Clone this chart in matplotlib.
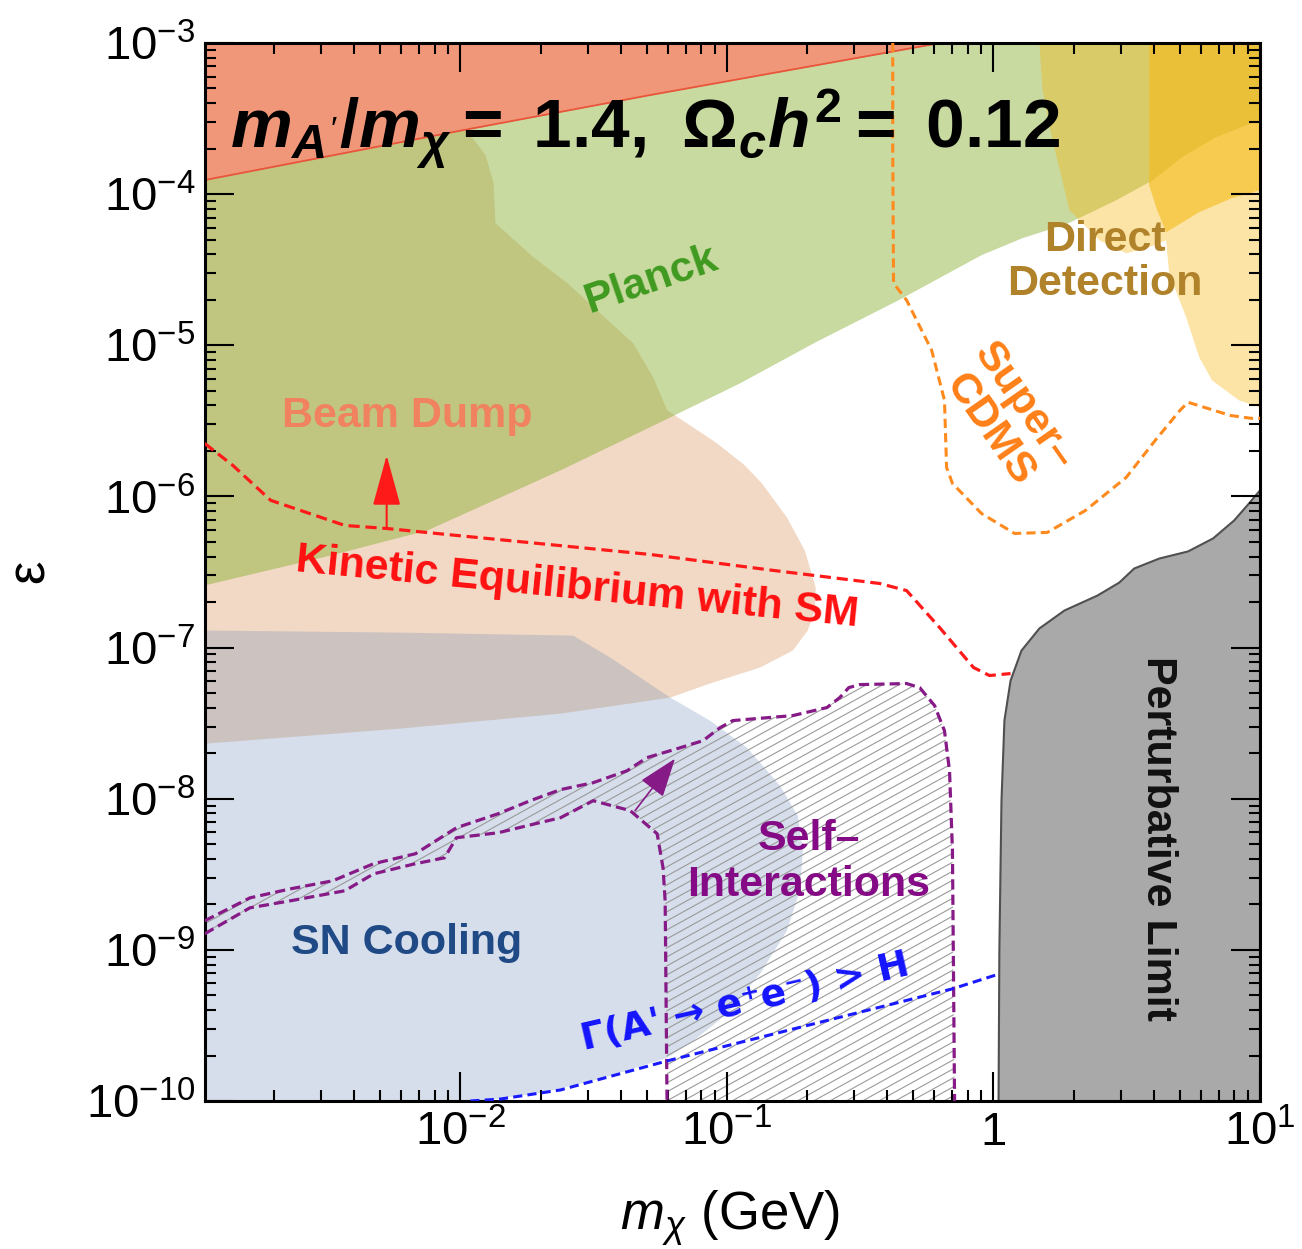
import numpy as np
import matplotlib.pyplot as plt
from matplotlib.patches import Polygon
from matplotlib.collections import LineCollection
from matplotlib.ticker import LogLocator, NullFormatter

plt.rcParams['font.family'] = ['Liberation Sans', 'DejaVu Sans']
plt.rcParams['mathtext.fontset'] = 'custom'
plt.rcParams['mathtext.rm'] = 'Liberation Sans'
plt.rcParams['mathtext.it'] = 'Liberation Sans:italic:bold'
plt.rcParams['mathtext.bf'] = 'Liberation Sans:bold'
plt.rcParams['mathtext.sf'] = 'Liberation Sans:italic'
plt.rcParams['mathtext.fallback'] = 'stixsans'

# all curves as log10(m_chi / GeV), log10(epsilon)
xlo, xhi = 1.1e-3, 10.0
ylo, yhi = 1e-10, 1e-3
xtick_vals = [1e-2, 1e-1, 1.0, 10.0]
xtick_labels = [r'$\mathregular{10^{-2}}$', r'$\mathregular{10^{-1}}$', '1', r'$\mathregular{10^{1}}$']

unit_logm = [-2.96, -2.0, -1.29, -0.20]
unit_logeps = [-3.907, -3.58, -3.345, -3.0]

planck_logm = [-2.96, -2.96, -2.487, -2.124, -1.625, -1.251, -0.951, -0.667, -0.356,
               -0.045, 0.109, 0.273, 0.461, 0.584, 0.584]
planck_logeps = [-3.0, -6.589, -6.391, -6.225, -5.828, -5.510, -5.252, -4.980, -4.702,
                 -4.404, -4.291, -4.199, -4.040, -3.921, -3.0]

beam_logm = [-2.019, -1.993, -1.963, -1.906, -1.876, -1.869, -1.727, -1.599, -1.476, -1.352,
             -1.277, -1.225, -1.127, -1.037, -0.933, -0.869, -0.775, -0.708, -0.667, -0.670,
             -0.697, -0.753, -0.876, -1.064, -1.213, -1.625, -2.225, -2.96, -2.96]
beam_logeps = [-3.0, -3.444, -3.609, -3.742, -3.927, -4.192, -4.417, -4.589, -4.788, -4.987,
               -5.212, -5.430, -5.543, -5.649, -5.795, -5.914, -6.139, -6.358, -6.603, -6.755,
               -6.887, -7.020, -7.132, -7.238, -7.331, -7.437, -7.536, -7.636, -3.0]

sn_logm = [-2.96, -2.225, -1.577, -1.438, -1.213, -1.064, -0.925, -0.801, -0.734, -0.715,
           -0.727, -0.775, -0.876, -1.0, -1.127, -1.225, -1.476, -1.700, -1.925, -2.96]
sn_logeps = [-6.887, -6.901, -6.921, -7.066, -7.331, -7.483, -7.662, -7.914, -8.113, -8.344,
             -8.609, -8.874, -9.159, -9.424, -9.603, -9.715, -9.854, -9.947, -10.0, -10.0]

dd_pale_logm = [0.172, 0.184, 0.221, 0.258, 0.285, 0.397, 0.498, 0.584, 0.648, 0.659,
                0.723, 0.772, 0.820, 0.921, 1.0, 1.0]
dd_pale_logeps = [-3.0, -3.311, -3.642, -3.907, -4.106, -4.305, -4.391, -4.351, -4.305, -4.523,
                  -4.815, -5.079, -5.232, -5.364, -5.411, -3.0]
dd_mid_logm = [0.584, 0.584, 0.614, 0.648, 0.772, 0.895, 1.0, 1.0]
dd_mid_logeps = [-3.0, -3.940, -4.106, -4.252, -4.119, -4.026, -3.974, -3.0]
dd_dark_logm = [0.584, 0.584, 0.708, 0.835, 1.0, 1.0]
dd_dark_logeps = [-3.0, -3.927, -3.755, -3.623, -3.510, -3.0]

pert_logm = [0.019, 0.022, 0.030, 0.041, 0.064, 0.105, 0.172, 0.266, 0.390, 0.472, 0.528,
             0.622, 0.730, 0.824, 0.903, 0.959, 1.0, 1.0]
pert_logeps = [-10.0, -9.007, -8.013, -7.483, -7.219, -7.020, -6.874, -6.755, -6.656, -6.570,
               -6.477, -6.411, -6.364, -6.278, -6.159, -6.046, -5.960, -10.0]

kin_logm = [-2.96, -2.854, -2.712, -2.434, -2.277, -2.090, -1.288, -0.824, -0.427, -0.326,
            -0.202, -0.075, -0.015, 0.064]
kin_logeps = [-5.649, -5.795, -6.026, -6.192, -6.212, -6.245, -6.384, -6.490, -6.576, -6.623,
              -6.868, -7.132, -7.185, -7.172]

cdms_logm = [-0.378, -0.378, -0.375, -0.326, -0.232, -0.184, -0.176, -0.154, -0.045, 0.079,
             0.202, 0.345, 0.498, 0.607, 0.700, 0.730, 0.888, 0.966, 1.0]
cdms_logeps = [-3.0, -3.709, -4.589, -4.702, -5.033, -5.364, -5.808, -5.914, -6.113, -6.245,
               -6.238, -6.093, -5.874, -5.629, -5.430, -5.377, -5.464, -5.483, -5.483]

si_up_logm = [-2.96, -2.790, -2.637, -2.479, -2.326, -2.169, -2.015, -1.858, -1.738, -1.625,
              -1.502, -1.375, -1.300, -1.187, -1.090, -1.026, -0.978, -0.753, -0.625, -0.577,
              -0.543, -0.502, -0.326, -0.277, -0.221, -0.184, -0.165, -0.154, -0.146]
si_up_logeps = [-8.808, -8.656, -8.596, -8.543, -8.430, -8.364, -8.192, -8.099, -8.013, -7.940,
                -7.894, -7.815, -7.728, -7.669, -7.616, -7.530, -7.483, -7.450, -7.397, -7.331,
                -7.265, -7.245, -7.238, -7.265, -7.384, -7.550, -7.815, -8.344, -10.0]
si_lo_logm = [-2.96, -2.790, -2.637, -2.434, -2.326, -2.169, -2.060, -2.015, -1.858, -1.704,
              -1.625, -1.502, -1.363, -1.262, -1.240, -1.232, -1.225]
si_lo_logeps = [-8.894, -8.722, -8.675, -8.609, -8.497, -8.430, -8.391, -8.258, -8.225, -8.159,
                -8.126, -8.013, -8.079, -8.232, -8.457, -8.675, -10.0]

gamma_logm = [-1.963, -1.850, -1.700, -1.625, -1.225, -0.824, -0.154, 0.022]
gamma_logeps = [-10.0, -9.987, -9.947, -9.927, -9.735, -9.556, -9.258, -9.159]

kin_arrow = ([-2.277, -6.212], [-2.277, -5.728])
si_arrow = ([-1.345, -8.079], [-1.195, -7.735])


def lin(a):
    return 10.0 ** np.asarray(a)


W, H = 1302, 1249
fig = plt.figure(figsize=(W / 100, H / 100), dpi=100)
ax = fig.add_axes([205 / W, 1 - 1101 / H, 1055 / W, 1058 / H])
ax.set_xscale('log')
ax.set_yscale('log')

# shaded regions
ax.fill(lin(beam_logm), lin(beam_logeps), color='#F2D9C5', lw=0, zorder=1.0)
ax.fill(lin(planck_logm), lin(planck_logeps), color=(133/255, 173/255, 44/255), alpha=0.45, lw=0, zorder=1.1)
ax.fill(lin(sn_logm), lin(sn_logeps), color=(91/255, 127/255, 175/255), alpha=0.25, lw=0, zorder=1.2)
ax.fill(lin(dd_pale_logm), lin(dd_pale_logeps), color=(249/255, 175/255, 0), alpha=0.35, lw=0, zorder=1.3)
ax.fill(lin(dd_mid_logm), lin(dd_mid_logeps), color=(245/255, 187/255, 22/255), alpha=0.6, lw=0, zorder=1.4)
ax.fill(lin(dd_dark_logm), lin(dd_dark_logeps), color=(228/255, 186/255, 43/255), alpha=0.6, lw=0, zorder=1.5)
ax.fill_between(lin(unit_logm), lin(unit_logeps), yhi, color='#F0977A', lw=0, zorder=1.6)
ax.plot(lin(unit_logm), lin(unit_logeps), color='#E8553A', lw=1.3, zorder=1.7)
ax.fill(lin(pert_logm), lin(pert_logeps), facecolor='#A9A9A9', edgecolor='#505050', lw=1.5, zorder=2.0)

# hatching of the self-interaction region
si_x = np.concatenate([si_up_logm, si_lo_logm[::-1]])
si_y = np.concatenate([si_up_logeps, si_lo_logeps[::-1]])
si_patch = Polygon(np.column_stack([lin(si_x), lin(si_y)]), closed=True,
                   facecolor='none', edgecolor='none')
ax.add_patch(si_patch)
offs = np.arange(-0.7, 1.0, 9 / 1058)
hatch = LineCollection([[(0, c), (1, c + 0.55)] for c in offs], colors='#9a9a9a',
                       linewidths=0.8, transform=ax.transAxes, zorder=2.2)
hatch.set_clip_path(si_patch)
ax.add_collection(hatch, autolim=False)

# boundary curves
ax.plot(lin(kin_logm), lin(kin_logeps), color='#FF1A1A', lw=2.3, dashes=(3.5, 1.8), zorder=3)
ax.plot(lin(cdms_logm), lin(cdms_logeps), color='#FF8A1E', lw=2.2, dashes=(3, 1.7), zorder=3)
ax.plot(lin(si_up_logm), lin(si_up_logeps), color='#861A86', lw=2.3, dashes=(3.2, 1.6), zorder=3)
ax.plot(lin(si_lo_logm), lin(si_lo_logeps), color='#861A86', lw=2.3, dashes=(3.2, 1.6), zorder=3)
ax.plot(lin(gamma_logm), lin(gamma_logeps), color='#1A1AFF', lw=2.2, dashes=(3, 1.7), zorder=3)

ax.annotate('', xy=lin(kin_arrow[1]), xytext=lin(kin_arrow[0]),
            arrowprops=dict(arrowstyle='-|>,head_length=0.8,head_width=0.22', color='#FF1A1A',
                            lw=1.5, mutation_scale=40, shrinkA=0, shrinkB=0), zorder=3)
ax.annotate('', xy=lin(si_arrow[1]), xytext=lin(si_arrow[0]),
            arrowprops=dict(arrowstyle='-|>,head_length=0.7,head_width=0.25', color='#861A86',
                            lw=1.2, mutation_scale=35, shrinkA=0, shrinkB=0), zorder=3)

# axes styling
ax.set_xlim(xlo, xhi)
ax.set_ylim(ylo, yhi)
ax.set_axisbelow(False)
ax.set_xticks(xtick_vals)
ax.set_xticklabels(xtick_labels)
ax.xaxis.set_minor_locator(LogLocator(base=10, subs=np.arange(2, 10), numticks=100))
ax.yaxis.set_major_locator(LogLocator(base=10, numticks=20))
ax.yaxis.set_minor_locator(LogLocator(base=10, subs=np.arange(2, 10), numticks=100))
ax.xaxis.set_minor_formatter(NullFormatter())
ax.yaxis.set_minor_formatter(NullFormatter())
ax.tick_params(which='both', direction='in', top=True, right=True, width=1.5, labelsize=34)
ax.tick_params(which='major', length=21, pad=7)
ax.tick_params(which='minor', length=8)
for s in ax.spines.values():
    s.set_linewidth(2.2)


def fpos(px, py):
    return px / W, 1 - py / H


fig.text(*fpos(230, 148),
         r'$m_{A^{\prime}}\mathbf{/}m_{\chi}\mathbf{=\;1.4,\ \Omega}_{c}h^{\mathbf{2}}\mathbf{=\;0.12}$',
         fontsize=50, ha='left', va='baseline')
fig.text(*fpos(730, 1230), r'$\mathsf{m}_{\mathsf{\chi}}$ (GeV)', fontsize=38, ha='center', va='baseline')
fig.text(*fpos(30, 571), 'ε', fontsize=38, rotation=90, ha='center', va='center')

lab = dict(fontweight='bold', fontsize=31, ha='center', va='center')
fig.text(*fpos(407, 416), 'Beam Dump', color='#F0825F', **lab)
fig.text(*fpos(651, 280), 'Planck', color='#3F9A20', rotation=19, **lab)
fig.text(*fpos(577, 588), 'Kinetic Equilibrium with SM', color='#FF1010', rotation=-5.6, **lab)
fig.text(*fpos(1105, 262), 'Direct\nDetection', color='#B0822A', linespacing=1.1, **lab)
fig.text(*fpos(1007, 418), 'Super–\nCDMS', color='#FF8018', rotation=-55, linespacing=1.05, **lab)
fig.text(*fpos(809, 862), 'Self–\nInteractions', color='#850A85', linespacing=1.2, **lab)
fig.text(*fpos(407, 943), 'SN Cooling', color='#1F4A86', **lab)
fig.text(*fpos(1158, 838), 'Perturbative Limit', color='#111111', rotation=-90, **lab)
fig.text(*fpos(745, 1003), "Γ(A' → e⁺e⁻) > H", color='#1414FF', rotation=13,
         fontweight='bold', fontsize=27, ha='center', va='center', family=['DejaVu Sans'])

fig.savefig('out.png', dpi=100)
